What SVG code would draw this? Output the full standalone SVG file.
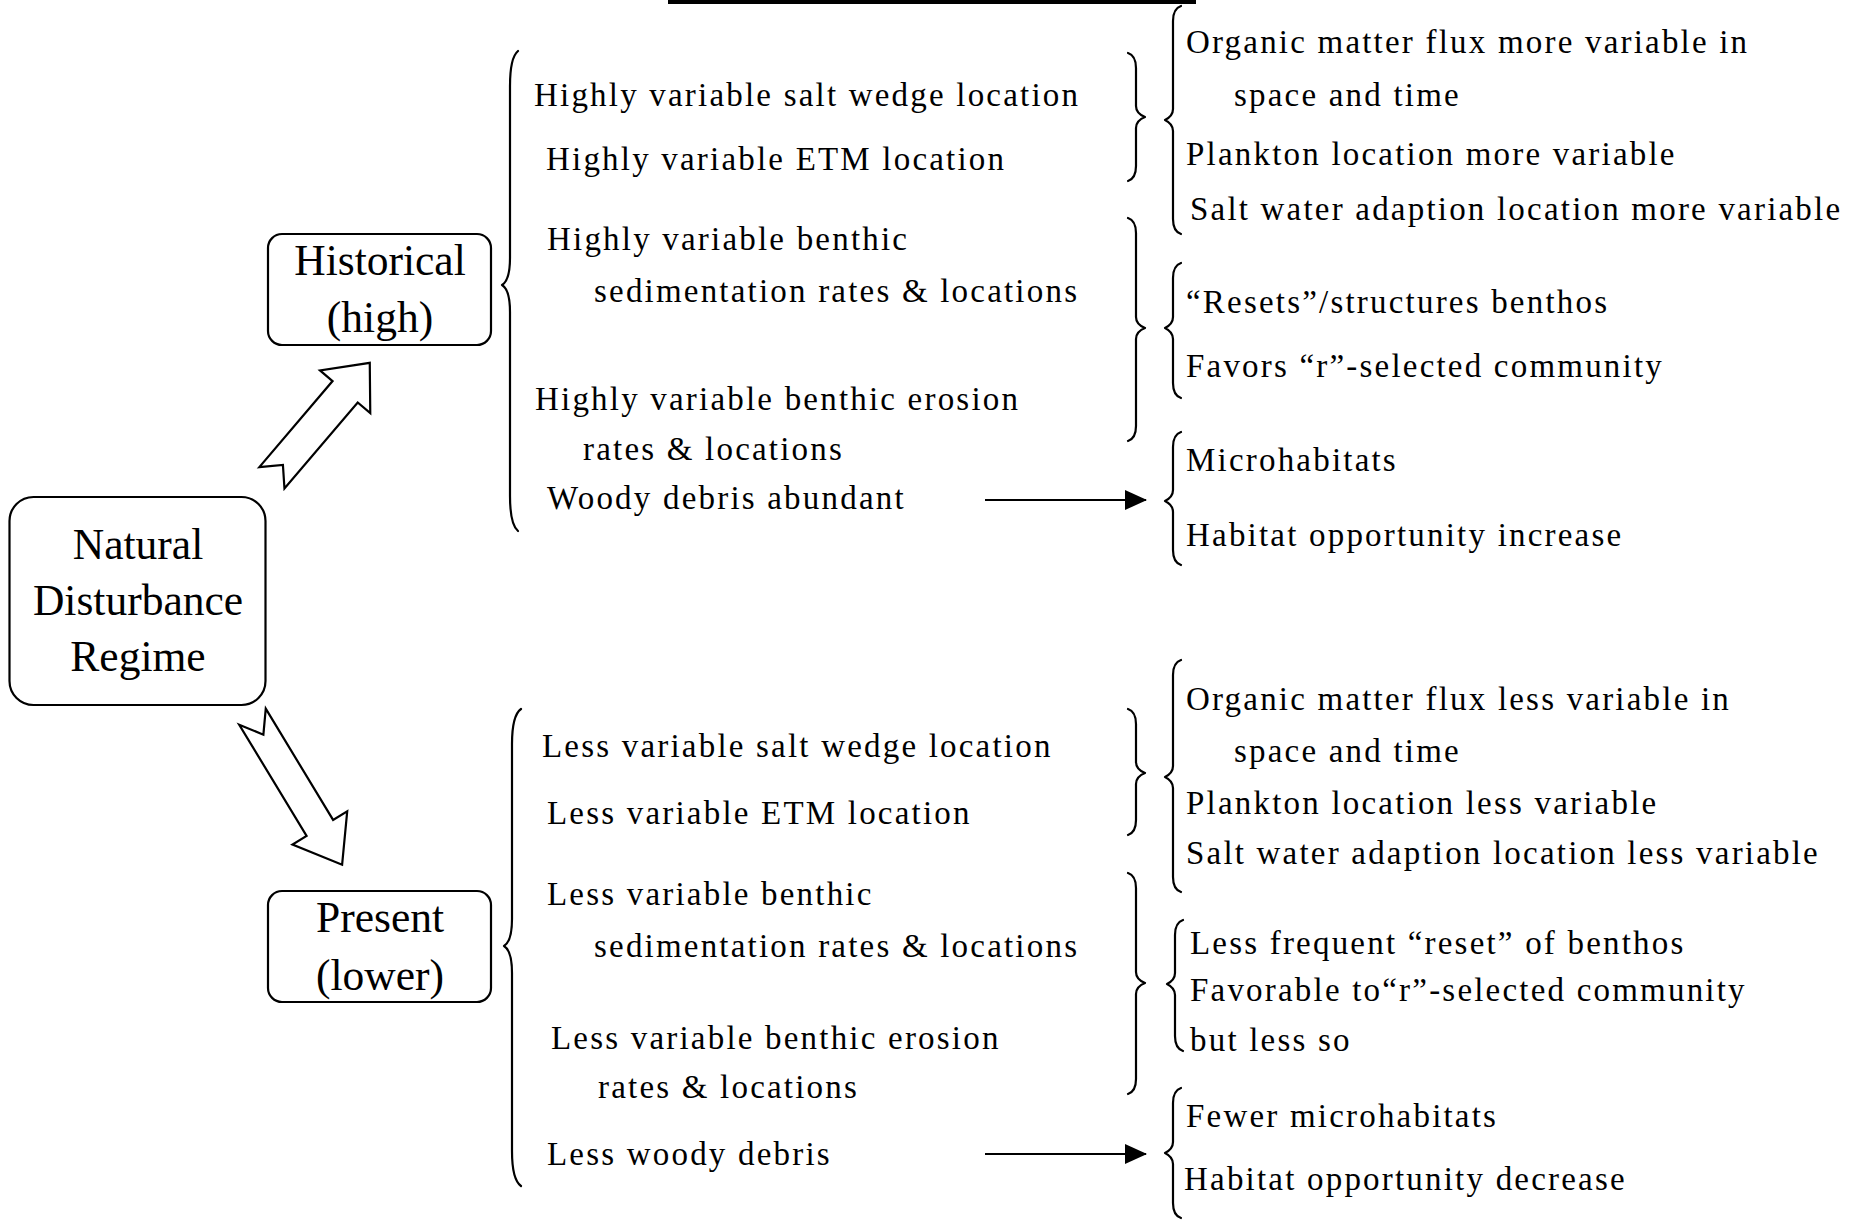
<svg xmlns="http://www.w3.org/2000/svg" width="1860" height="1222" viewBox="0 0 1860 1222">
  <style>
    .box { fill: #ffffff; stroke: #000000; stroke-width: 2.2; }
    .boxlabel { font-family: "Liberation Serif", "Times New Roman", serif; font-size: 43.5px; fill: #000000; text-anchor: middle; }
    .item { font-family: "Liberation Serif", "Times New Roman", serif; font-size: 33px; letter-spacing: 2.2px; fill: #000000; }
    .brace { fill: none; stroke: #000000; stroke-width: 2.2; stroke-linejoin: round; stroke-linecap: round; }
    .hollow { fill: #ffffff; stroke: #000000; stroke-width: 2.2; stroke-linejoin: miter; }
    .link { fill: none; stroke: #000000; stroke-width: 2.2; }
  </style>
  <defs>
    <marker id="head" viewBox="0 0 22 20" refX="21" refY="10" markerWidth="22" markerHeight="20" markerUnits="userSpaceOnUse" orient="auto">
      <path d="M0,0 L22,10 L0,20 Z" fill="#000000"/>
    </marker>
  </defs>

  <rect width="1860" height="1222" fill="#ffffff"/>

  <!-- rule across the top -->
  <rect x="668" y="0" width="528" height="4" fill="#000000"/>

  <!-- nodes -->
  <g id="natural-regime">
    <rect class="box" x="9.5" y="497" width="256" height="208" rx="24" ry="24"/>
    <text class="boxlabel" x="138" y="559">Natural</text>
    <text class="boxlabel" x="138" y="615">Disturbance</text>
    <text class="boxlabel" x="138" y="671">Regime</text>
  </g>

  <g id="historical">
    <rect class="box" x="268" y="234" width="223" height="111" rx="14" ry="14"/>
    <text class="boxlabel" x="380" y="275">Historical</text>
    <text class="boxlabel" x="380" y="332">(high)</text>
  </g>

  <g id="present">
    <rect class="box" x="268" y="891" width="223" height="111" rx="14" ry="14"/>
    <text class="boxlabel" x="380" y="932">Present</text>
    <text class="boxlabel" x="380" y="990">(lower)</text>
  </g>

  <g id="historical-drivers">
    <text class="item" x="534" y="106">Highly variable salt wedge location</text>
    <text class="item" x="546" y="170">Highly variable ETM location</text>
    <text class="item" x="547" y="250">Highly variable benthic</text>
    <text class="item" x="594" y="302">sedimentation rates &amp; locations</text>
    <text class="item" x="535" y="410">Highly variable benthic erosion</text>
    <text class="item" x="583" y="460">rates &amp; locations</text>
    <text class="item" x="547" y="509">Woody debris abundant</text>
  </g>

  <g id="present-drivers">
    <text class="item" x="542" y="757">Less variable salt wedge location</text>
    <text class="item" x="547" y="824">Less variable ETM location</text>
    <text class="item" x="547" y="905">Less variable benthic</text>
    <text class="item" x="594" y="957">sedimentation rates &amp; locations</text>
    <text class="item" x="551" y="1049">Less variable benthic erosion</text>
    <text class="item" x="598" y="1098">rates &amp; locations</text>
    <text class="item" x="547" y="1165">Less woody debris</text>
  </g>

  <g id="historical-effects">
    <text class="item" x="1186" y="53">Organic matter flux more variable in</text>
    <text class="item" x="1234" y="106">space and time</text>
    <text class="item" x="1186" y="165">Plankton location more variable</text>
    <text class="item" x="1190" y="220">Salt water adaption location more variable</text>
    <text class="item" x="1186" y="313">“Resets”/structures benthos</text>
    <text class="item" x="1186" y="377">Favors “r”-selected community</text>
    <text class="item" x="1186" y="471">Microhabitats</text>
    <text class="item" x="1186" y="546">Habitat opportunity increase</text>
  </g>

  <g id="present-effects">
    <text class="item" x="1186" y="710">Organic matter flux less variable in</text>
    <text class="item" x="1234" y="762">space and time</text>
    <text class="item" x="1186" y="814">Plankton location less variable</text>
    <text class="item" x="1186" y="864">Salt water adaption location less variable</text>
    <text class="item" x="1190" y="954">Less frequent “reset” of benthos</text>
    <text class="item" x="1190" y="1001">Favorable to“r”-selected community</text>
    <text class="item" x="1190" y="1051">but less so</text>
    <text class="item" x="1186" y="1127">Fewer microhabitats</text>
    <text class="item" x="1184" y="1190">Habitat opportunity decrease</text>
  </g>

  <!-- grouping braces -->
  <g id="braces">
    <!-- large braces gathering each regime's drivers -->
    <path class="brace" d="M518,51 C512,56 510,70 510,86 L510,258 C510,273 507,282 502,285 C507,288 510,297 510,312 L510,496 C510,512 512,526 518,531"/>
    <path class="brace" d="M521,709 C514,714 512,728 512,744 L512,919 C512,934 509,943 504,946 C509,949 512,958 512,973 L512,1151 C512,1167 514,1181 521,1186"/>
    <!-- closing braces after the drivers -->
    <path class="brace" d="M1128,53 C1134,55 1136,60 1136,68 L1136,106 C1136,112 1140,115 1145,117 C1140,119 1136,122 1136,128 L1136,166 C1136,174 1134,179 1128,181"/>
    <path class="brace" d="M1128,218 C1134,220 1136,225 1136,233 L1136,317 C1136,323 1140,326 1145,328 C1140,330 1136,333 1136,339 L1136,426 C1136,434 1134,439 1128,441"/>
    <path class="brace" d="M1128,709 C1134,711 1136,716 1136,724 L1136,762 C1136,768 1140,771 1145,773 C1140,775 1136,778 1136,784 L1136,820 C1136,828 1134,833 1128,835"/>
    <path class="brace" d="M1128,873 C1134,875 1136,880 1136,888 L1136,972 C1136,978 1140,981 1145,983 C1140,985 1136,988 1136,994 L1136,1079 C1136,1087 1134,1092 1128,1094"/>
    <!-- opening braces before the effects -->
    <path class="brace" d="M1181,6 C1175,8 1173,13 1173,21 L1173,109 C1173,115 1169,118 1165,120 C1169,122 1173,125 1173,131 L1173,219 C1173,227 1175,232 1181,234"/>
    <path class="brace" d="M1181,263 C1175,265 1173,270 1173,278 L1173,317 C1173,323 1169,326 1165,328 C1169,330 1173,333 1173,339 L1173,383 C1173,391 1175,396 1181,398"/>
    <path class="brace" d="M1181,432 C1175,434 1173,439 1173,447 L1173,490 C1173,496 1169,499 1165,501 C1169,503 1173,506 1173,512 L1173,550 C1173,558 1175,563 1181,565"/>
    <path class="brace" d="M1181,660 C1175,662 1173,667 1173,675 L1173,766 C1173,772 1169,775 1165,777 C1169,779 1173,782 1173,788 L1173,877 C1173,885 1175,890 1181,892"/>
    <path class="brace" d="M1183,920 C1177,922 1175,927 1175,935 L1175,973 C1175,979 1171,982 1167,984 C1171,986 1175,989 1175,995 L1175,1036 C1175,1044 1177,1049 1183,1051"/>
    <path class="brace" d="M1181,1088 C1175,1090 1173,1095 1173,1103 L1173,1142 C1173,1148 1169,1151 1165,1153 C1169,1155 1173,1158 1173,1164 L1173,1203 C1173,1211 1175,1216 1181,1218"/>
  </g>

  <!-- connectors -->
  <g id="connectors">
    <!-- block arrows from the regime box to its two states -->
    <polygon class="hollow" transform="translate(271.9,477.8) rotate(-49.6)" points="0,-16.5 113,-16.5 113,-33 151,0 113,33 113,16.5 0,16.5 17,0"/>
    <polygon class="hollow" transform="translate(252.5,716.7) rotate(58.8)" points="0,-15.5 130,-15.5 130,-32 173,0 130,32 130,15.5 0,15.5 21,0"/>
    <!-- woody debris links -->
    <line class="link" x1="985" y1="500" x2="1146" y2="500" marker-end="url(#head)"/>
    <line class="link" x1="985" y1="1154" x2="1146" y2="1154" marker-end="url(#head)"/>
  </g>
</svg>
